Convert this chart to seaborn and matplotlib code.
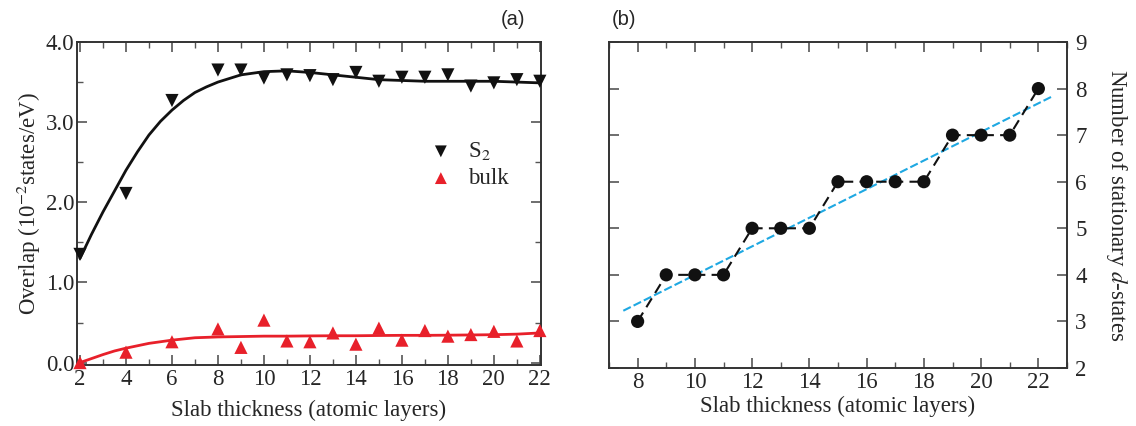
import numpy as np
import pandas as pd
import matplotlib
matplotlib.use("Agg")
import matplotlib.pyplot as plt
import seaborn as sns
from matplotlib.ticker import MultipleLocator

# ---------------- data: panel (a) ----------------
layers_a = [2, 4, 6, 8, 9, 10, 11, 12, 13, 14, 15, 16, 17, 18, 19, 20, 21, 22]
overlap_s2 = [1.35, 2.11, 3.27, 3.65, 3.65, 3.55, 3.59, 3.58, 3.53, 3.62,
              3.51, 3.56, 3.56, 3.59, 3.45, 3.49, 3.53, 3.51]
overlap_bulk = [0.00, 0.13, 0.26, 0.42, 0.19, 0.53, 0.27, 0.26, 0.37, 0.23,
                0.43, 0.28, 0.40, 0.33, 0.35, 0.39, 0.27, 0.40]

# fitted curves
fit_x = [2, 2.5, 3, 3.5, 4, 4.5, 5, 5.5, 6, 6.5, 7, 7.5, 8, 9, 10, 11, 12, 13, 14,
         15, 16, 17, 18, 19, 20, 21, 22]
fit_s2 = [1.30, 1.60, 1.88, 2.14, 2.40, 2.63, 2.84, 3.01, 3.15, 3.27, 3.37, 3.44,
          3.50, 3.59, 3.63, 3.64, 3.62, 3.59, 3.56, 3.53, 3.52, 3.51, 3.51, 3.51,
          3.51, 3.50, 3.49]
fit_bulk = [0.00, 0.05, 0.10, 0.145, 0.18, 0.21, 0.24, 0.26, 0.28, 0.295, 0.31,
            0.315, 0.32, 0.325, 0.33, 0.33, 0.333, 0.335, 0.335, 0.338, 0.34, 0.34,
            0.342, 0.345, 0.348, 0.355, 0.37]

# ---------------- data: panel (b) ----------------
layers_b = [8, 9, 10, 11, 12, 13, 14, 15, 16, 17, 18, 19, 20, 21, 22]
n_states = [3, 4, 4, 4, 5, 5, 5, 6, 6, 6, 6, 7, 7, 7, 8]
line_range = [7.5, 22.5]

sns.set_theme(style="white")
plt.rcParams['font.family'] = ['Liberation Serif', 'DejaVu Serif']
plt.rcParams['mathtext.fontset'] = 'stix'

FS = 16.5

fig = plt.figure(figsize=(11.36, 4.26), dpi=100)
ax1 = fig.add_axes([77 / 1136, 1 - 365 / 426, 464 / 1136, 323 / 426])
ax2 = fig.add_axes([609 / 1136, 1 - 368 / 426, 458 / 1136, 326 / 426])

red = '#e8202a'
spine_col = '#333333'
tick_col = '#555555'

# ---------- panel (a) ----------
dfa = pd.DataFrame({'x': layers_a, 's2': overlap_s2, 'bulk': overlap_bulk})
dff = pd.DataFrame({'x': fit_x, 's2': fit_s2, 'bulk': fit_bulk})
sns.lineplot(data=dff, x='x', y='s2', ax=ax1, color='#111111', lw=2.0, zorder=2)
sns.lineplot(data=dff, x='x', y='bulk', ax=ax1, color=red, lw=2.0, zorder=2)
sns.scatterplot(data=dfa, x='x', y='s2', ax=ax1, marker='v', s=90, color='#111111',
                edgecolor='none', label='S$_2$', zorder=3, clip_on=False)
sns.scatterplot(data=dfa, x='x', y='bulk', ax=ax1, marker='^', s=90, color=red,
                edgecolor='none', label='bulk', zorder=3, clip_on=False)

ax1.set_xlim(1.87, 22.05)
ax1.set_ylim(-0.03, 4.0)
ax1.xaxis.set_major_locator(MultipleLocator(2))
ax1.xaxis.set_minor_locator(MultipleLocator(1))
ax1.yaxis.set_major_locator(MultipleLocator(1.0))
ax1.yaxis.set_minor_locator(MultipleLocator(0.5))
ax1.yaxis.set_major_formatter(matplotlib.ticker.FormatStrFormatter('%.1f'))
ax1.set_xlabel('Slab thickness (atomic layers)', fontsize=FS, labelpad=7)
ax1.set_ylabel('Overlap (10$^{-2}$states/eV)', fontsize=FS, labelpad=2)
leg = ax1.legend(loc='center left', bbox_to_anchor=(0.715, 0.62), frameon=False,
                 fontsize=FS, handletextpad=0.2, labelspacing=0.25,
                 markerscale=0.9, borderaxespad=0)
ax1.text(0.965, 1.04, '(a)', transform=ax1.transAxes, ha='right', va='bottom',
         fontsize=14.5, family=['Liberation Sans', 'DejaVu Sans'])

# ---------- panel (b) ----------
dfb = pd.DataFrame({'x': layers_b, 'n': n_states})
coef = np.polyfit(layers_b, n_states, 1)
dfl = pd.DataFrame({'x': line_range, 'n': np.polyval(coef, line_range)})
sns.lineplot(data=dfl, x='x', y='n', ax=ax2, color='#1ea8e2', lw=1.5, zorder=2)
ax2.lines[-1].set_dashes((4, 1.5))
sns.lineplot(data=dfb, x='x', y='n', ax=ax2, color='#111111', lw=1.5, zorder=3)
ax2.lines[-1].set_dashes((5, 3))
sns.scatterplot(data=dfb, x='x', y='n', ax=ax2, s=90, color='#111111',
                edgecolor='none', zorder=4)
ax2.set_xlim(7, 23)
ax2.set_ylim(2, 9)
ax2.xaxis.set_major_locator(MultipleLocator(2))
ax2.xaxis.set_minor_locator(MultipleLocator(1))
ax2.yaxis.set_major_locator(MultipleLocator(1))
ax2.yaxis.tick_right()
ax2.yaxis.set_label_position('right')
ax2.set_xlabel('Slab thickness (atomic layers)', fontsize=FS, labelpad=2)
ax2.set_ylabel('Number of stationary $d$-states', fontsize=FS, rotation=270,
               labelpad=30)
ax2.text(0.005, 1.04, '(b)', transform=ax2.transAxes, ha='left', va='bottom',
         fontsize=14.5, family=['Liberation Sans', 'DejaVu Sans'])

for ax in (ax1, ax2):
    for sp in ax.spines.values():
        sp.set_color(spine_col)
        sp.set_linewidth(1.4)
    ax.tick_params(which='both', direction='in', top=True, bottom=True,
                   left=True, right=True, color=tick_col, labelsize=FS)
    ax.tick_params(which='major', length=7, width=1.2)
    ax.tick_params(which='minor', length=4, width=1.0)
    ax.tick_params(axis='x', pad=3)

ax1.tick_params(axis='y', pad=2)
ax2.tick_params(axis='y', which='both', labelleft=False, labelright=True, pad=6)

fig.savefig('out.png', dpi=100)
